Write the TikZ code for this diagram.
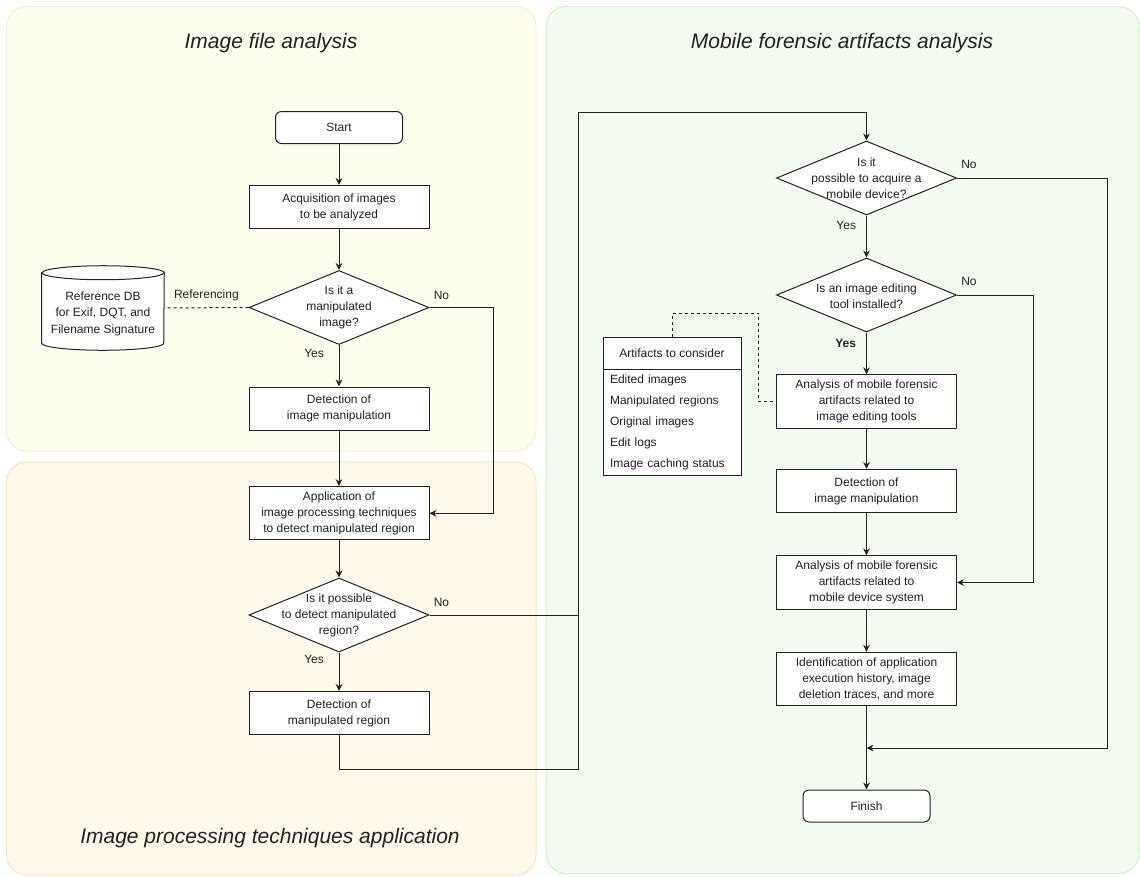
\documentclass[tikz,border=0pt]{standalone}
\usepackage{fontspec}
\setmainfont{Liberation Sans}
\usetikzlibrary{shapes.geometric,arrows.meta,backgrounds,calc}
\newcommand\nfont{\fontsize{9}{12}\selectfont}
\newcommand\tfont{\fontsize{15.75}{18}\selectfont\itshape}
\definecolor{pAfill}{RGB}{255,253,238}
\definecolor{pAdraw}{RGB}{249,238,202}
\definecolor{pBfill}{RGB}{255,249,235}
\definecolor{pBdraw}{RGB}{248,228,182}
\definecolor{pCfill}{RGB}{243,251,240}
\definecolor{pCdraw}{RGB}{214,237,208}
\definecolor{ink}{RGB}{34,34,34}
\tikzset{
  panel/.style={line width=0.75pt, rounded corners=15pt},
  boxline/.style={draw=ink, line width=0.75pt},
  flowbox/.style={boxline, fill=white, align=center, font=\nfont, text=ink, inner sep=0pt, minimum width=135pt, minimum height=32.25pt},
  tallbox/.style={flowbox, minimum height=40pt},
  termbox/.style={flowbox, rounded corners=4.5pt, minimum width=95.25pt, minimum height=24pt},
  decision/.style={diamond, boxline, fill=white, inner sep=0pt, minimum width=135pt, minimum height=55.5pt},
  flow/.style={draw=ink, line width=0.75pt, -{Stealth[length=5.25pt,width=5pt]}},
  plain/.style={draw=ink, line width=0.75pt},
  refline/.style={draw=ink, line width=0.75pt, dash pattern=on 2.25pt off 2.25pt},
  lbl/.style={font=\nfont, text=ink, inner sep=0pt},
  ttl/.style={font=\tfont, text=ink, inner sep=0pt},
}
\begin{document}
\begin{tikzpicture}[x=0.75pt,y=-0.75pt]
\useasboundingbox (0,0) rectangle (1140,876);

% ---------- panels ----------
\begin{scope}[on background layer]
\draw[panel, draw=pAdraw, fill=pAfill] (6.5,6.5) rectangle (536,451);
\draw[panel, draw=pBdraw, fill=pBfill] (6.5,462) rectangle (536,875);
\draw[panel, draw=pCdraw, fill=pCfill] (546,6.5) rectangle (1139,873.5);
\end{scope}

\node[ttl] (t1) at (271,43) {Image file analysis};
\node[ttl] (t2) at (842,43) {Mobile forensic artifacts analysis};
\node[ttl] (t3) at (270,838) {Image processing techniques application};

% ---------- left column ----------
\node[termbox] (start) at (339,127.5) {Start};
\node[flowbox] (acq) at (339,207) {Acquisition of images\\to be analyzed};
\node[decision, label={[lbl,align=center]center:Is it a\\manipulated\\image?}] (d1) at (339,307.5) {};
\node[flowbox] (det1) at (339,408.5) {Detection of\\image manipulation};
\node[tallbox] (app) at (339,513.3) {Application of\\image processing techniques\\to detect manipulated region};
\node[decision, label={[lbl,align=center]center:Is it possible\\to detect manipulated\\region?}] (d2) at (339,615) {};
\node[flowbox] (det2) at (339,713) {Detection of\\manipulated region};

% database cylinder
\node[inner sep=0pt, minimum width=91.5pt, minimum height=63pt,
      label={[lbl,align=center,yshift=-4.2pt,font=\fontsize{9}{12.4}\selectfont]center:Reference DB\\for Exif, DQT, and\\Filename Signature}] (db) at (103,308) {};
\begin{scope}[on background layer]
\draw[boxline, fill=white] ([yshift=-5.25pt]db.north west) -- ([yshift=5.25pt]db.south west)
  arc[start angle=180, end angle=360, x radius=45.75pt, y radius=5.25pt]
  -- ([yshift=-5.25pt]db.north east)
  arc[start angle=0, end angle=180, x radius=45.75pt, y radius=5.25pt] -- cycle;
\draw[boxline] ([yshift=-5.25pt]db.north west)
  arc[start angle=180, end angle=360, x radius=45.75pt, y radius=5.25pt];
\end{scope}

% ---------- right column ----------
\node[decision, label={[lbl,align=center]center:Is it\\possible to acquire a\\mobile device?}] (d3) at (866.5,178) {};
\node[decision, label={[lbl,align=center,yshift=-1pt]center:Is an image editing\\tool installed?}] (d4) at (866.5,295) {};
\node[tallbox] (an1) at (866.5,401.5) {Analysis of mobile forensic\\artifacts related to\\image editing tools};
\node[flowbox] (det3) at (866.5,491) {Detection of\\image manipulation};
\node[tallbox] (an2) at (866.5,582.5) {Analysis of mobile forensic\\artifacts related to\\mobile device system};
\node[tallbox] (ident) at (866.5,679) {Identification of application\\execution history, image\\deletion traces, and more};
\node[termbox] (finish) at (866.5,806) {Finish};

% artifacts table
\node[flowbox, minimum width=103.5pt, minimum height=24pt] (arthead) at (672,353) {Artifacts to consider};
\node[boxline, fill=white, font=\fontsize{9}{15.75}\selectfont, text=ink, align=left,
      text width=93pt, inner xsep=5.25pt, inner ysep=0pt, minimum height=79.5pt] (artlist) at (672,422)
  {Edited images\\Manipulated regions\\Original images\\Edit logs\\Image caching status};

% ---------- coordinates ----------
\coordinate (r1) at (493,307.5);
\coordinate (lb) at (578,769);
\coordinate (lt) at (578,112);
\coordinate (r3) at (1107.5,178);
\coordinate (r4) at (1033.5,295);
\coordinate (m) at (866.5,748);
\coordinate (dk) at (758.5,313);

% ---------- connectors ----------
\draw[flow] (start) -- (acq);
\draw[flow] (acq) -- (d1);
\draw[flow] (d1.south) -- (det1.north) node[lbl, pos=0.21, left=11pt] (y1) {Yes};
\draw[flow] (det1) -- (app);
\draw[flow] (app) -- (d2);
\draw[flow] (d2.south) -- (det2.north) node[lbl, pos=0.17, left=11pt] (y2) {Yes};
\draw[refline] (d1.west) -- (db.east) node[lbl, midway, above=4.5pt] (ref) {Referencing};
\draw[flow] (d1.east) -- (r1) |- (app.east);
\node[lbl, anchor=south west] (n1) at ([xshift=3pt,yshift=6pt]d1.east) {No};
\draw[plain] (d2.east) -- (d2.east -| lb);
\node[lbl, anchor=south west] (n2) at ([xshift=3pt,yshift=6pt]d2.east) {No};
\draw[flow] (det2.south) |- (lb) -- (lt) -| (d3.north);

\draw[flow] (d3.south) -- (d4.north) node[lbl, pos=0.23, left=7.5pt] (y3) {Yes};
\draw[flow] (d4.south) -- (an1.north) node[lbl, pos=0.25, left=7.5pt, font=\nfont\bfseries] (y4) {Yes};
\draw[flow] (d3.east) -- (r3) |- (m);
\node[lbl, anchor=south west] (n3) at ([xshift=3pt,yshift=7pt]d3.east) {No};
\draw[flow] (d4.east) -- (r4) |- (an2.east);
\node[lbl, anchor=south west] (n4) at ([xshift=3pt,yshift=7pt]d4.east) {No};
\draw[flow] (an1) -- (det3);
\draw[flow] (det3) -- (an2);
\draw[flow] (an2) -- (ident);
\draw[flow] (ident) -- (finish);
\draw[refline] (arthead.north) |- (dk) |- (an1.west);
\end{tikzpicture}
\end{document}
